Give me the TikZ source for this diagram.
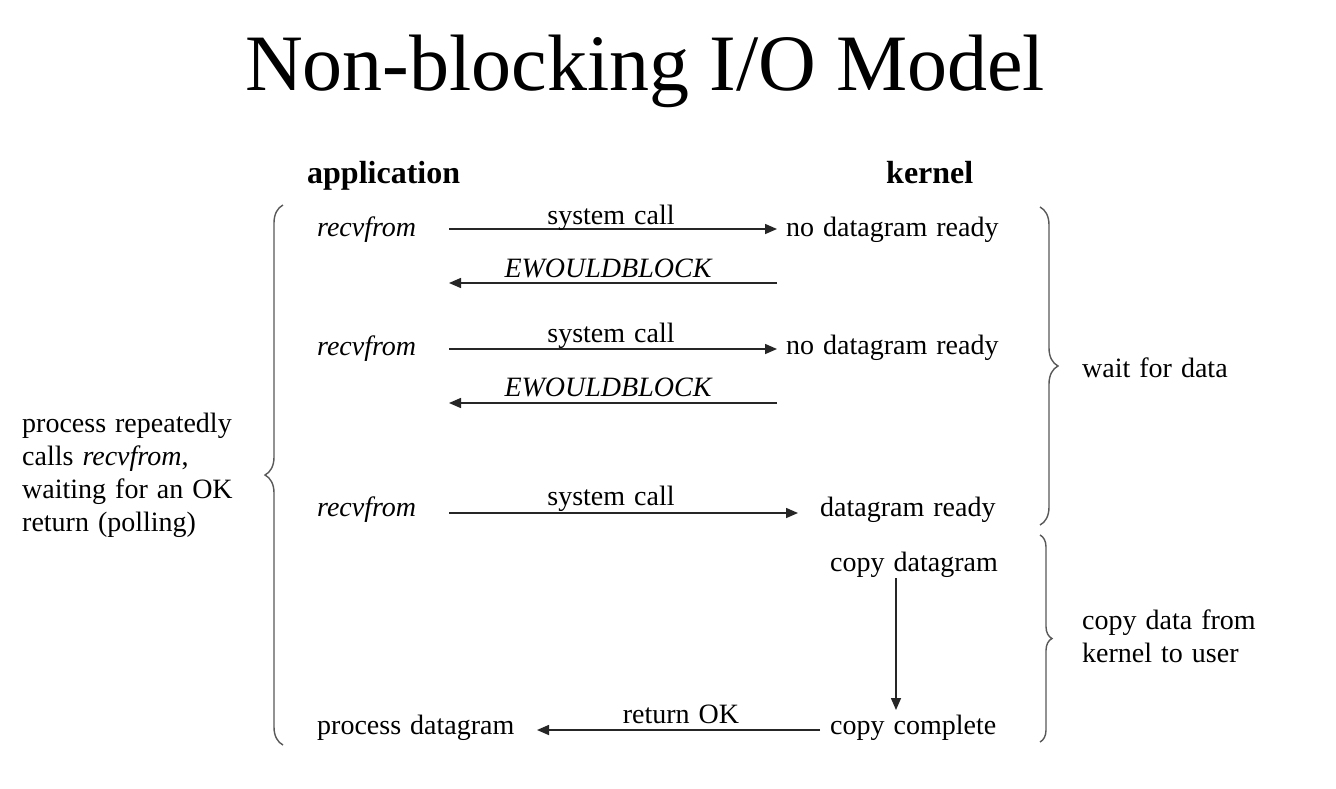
\documentclass[tikz,border=0pt]{standalone}
\usepackage{fontspec}
\setmainfont{Liberation Serif}
\usetikzlibrary{arrows.meta,decorations.pathreplacing}
\newcommand\mywsp{\spaceskip=9pt plus 2pt minus 1pt\relax}
\begin{document}
\begin{tikzpicture}[x=1pt,y=-1pt,
  txt/.style={inner sep=0pt,font=\fontsize{28}{34}\selectfont\mywsp},
  hd/.style={inner sep=0pt,font=\fontsize{32}{36}\selectfont\bfseries},
  arr/.style={line width=1.5pt,draw=black!85,-{Triangle[length=12pt,width=10pt]}},
  brc/.style={draw=black!65,line width=1.4pt,decorate,decoration={brace,amplitude=#1}}]
\useasboundingbox[fill=white] (0,0) rectangle (1336,788);
\node[inner sep=0pt,anchor=base,font=\fontsize{80}{90}\selectfont] (title) at (645,90) {Non-blocking I/O Model};
\node[hd,anchor=base west] (app) at (307,183) {application};
\node[hd,anchor=base west] (ker) at (886,183) {kernel};
% row 1
\node[txt,anchor=base west] (r1) at (317,236) {\itshape recvfrom};
\node[txt,anchor=base west] (k1) at (786,236) {no datagram ready};
\coordinate (a1s) at (449,229); \coordinate (a1e) at (777,229);
\draw[arr] (a1s) -- (a1e);
\node[txt,anchor=base] (s1l) at (611,224) {system call};
\coordinate (b1s) at (777,283); \coordinate (b1e) at (449,283);
\draw[arr] (b1s) -- (b1e);
\node[txt,anchor=base] (e1) at (608,277) {\itshape EWOULDBLOCK};
% row 2
\node[txt,anchor=base west] (r2) at (317,355) {\itshape recvfrom};
\node[txt,anchor=base west] (k2) at (786,354) {no datagram ready};
\coordinate (a2s) at (449,349); \coordinate (a2e) at (777,349);
\draw[arr] (a2s) -- (a2e);
\node[txt,anchor=base] (s2l) at (611,342) {system call};
\coordinate (b2s) at (777,403); \coordinate (b2e) at (449,403);
\draw[arr] (b2s) -- (b2e);
\node[txt,anchor=base] (e2) at (608,396) {\itshape EWOULDBLOCK};
% row 3
\node[txt,anchor=base west] (r3) at (317,516) {\itshape recvfrom};
\node[txt,anchor=base west] (k3) at (820,516) {datagram ready};
\coordinate (a3s) at (449,513); \coordinate (a3e) at (798,513);
\draw[arr] (a3s) -- (a3e);
\node[txt,anchor=base] (s3l) at (611,505) {system call};
% copy
\node[txt,anchor=base west] (cd) at (830,571) {copy datagram};
\node[txt,anchor=base west] (cc) at (830,734) {copy complete};
\coordinate (vs) at (896,578); \coordinate (ve) at (896,710);
\draw[arr] (vs) -- (ve);
\node[txt,anchor=base west] (pd) at (317,734) {process datagram};
\coordinate (rs) at (820,730); \coordinate (re) at (537,730);
\draw[arr] (rs) -- (re);
\node[txt,anchor=base] (rok) at (681,723) {return OK};
% left brace
\coordinate (lb1) at (283,745); \coordinate (lb2) at (283,205);
\draw[brc=18pt] (lb1) -- (lb2);
\node[txt,anchor=base west] (lt1) at (22,432) {process repeatedly};
\node[txt,anchor=base west] (lt2) at (22,465) {calls \itshape recvfrom\upshape,};
\node[txt,anchor=base west] (lt3) at (22,498) {waiting for an OK};
\node[txt,anchor=base west] (lt4) at (22,531) {return (polling)};
% right braces
\coordinate (rb1) at (1040,207); \coordinate (rb2) at (1040,525);
\draw[brc=18pt] (rb1) -- (rb2);
\node[txt,anchor=base west] (w) at (1082,377) {wait for data};
\coordinate (rb3) at (1040,535); \coordinate (rb4) at (1040,742);
\draw[brc=12pt] (rb3) -- (rb4);
\node[txt,anchor=base west] (c1) at (1082,629) {copy data from};
\node[txt,anchor=base west] (c2) at (1082,662) {kernel to user};
\end{tikzpicture}
\end{document}
